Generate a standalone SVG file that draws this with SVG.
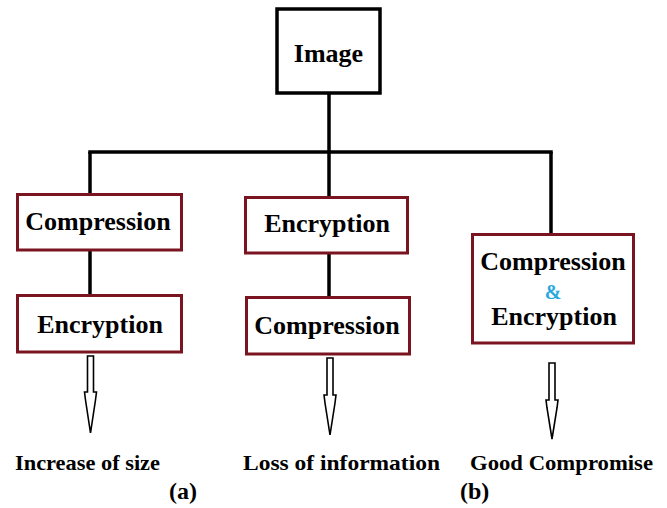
<svg xmlns="http://www.w3.org/2000/svg" width="667" height="508" viewBox="0 0 667 508">
<style>
.box{fill:#fff;stroke:#7b1421;stroke-width:3}
.img{fill:#fff;stroke:#000;stroke-width:3.5}
.t{font-family:'Liberation Serif','Times New Roman','DejaVu Serif',serif;font-weight:700;fill:#000;text-anchor:middle}
.big{font-size:26px}
.lab{font-size:22px;text-anchor:start}
.amp{font-size:20px;fill:#29a8e0}
.line{stroke:#000;stroke-width:3.5;fill:none}
.arr{fill:#fff;stroke:#000;stroke-width:1.6;stroke-linejoin:miter}
</style>
<g id="connectors">
<line class="line" x1="329" y1="93" x2="329" y2="152"/>
<line class="line" x1="88.25" y1="152" x2="552.75" y2="152"/>
<line class="line" x1="90" y1="152" x2="90" y2="194"/>
<line class="line" x1="329" y1="152" x2="329" y2="197"/>
<line class="line" x1="551" y1="152" x2="551" y2="234"/>
<line class="line" x1="90" y1="250" x2="90" y2="295"/>
<line class="line" x1="329" y1="253" x2="329" y2="297"/>
<polygon class="arr" points="87.5,356 93.5,356 93.5,392 96.5,392 95.5,400 90.5,433 85.5,400 84.5,392 87.5,392"/>
<polygon class="arr" points="327,358 333,358 333,395 336,395 335,403 330,435 325,403 324,395 327,395"/>
<polygon class="arr" points="549,363 555,363 555,400 558,400 557,408 552,439 547,408 546,400 549,400"/>
</g>
<g id="image">
<rect class="img" x="277" y="9" width="103" height="84"/>
<text class="t big" x="328.5" y="62" font-family="Liberation Serif, serif">Image</text>
</g>
<g id="a-compression">
<rect class="box" x="17.5" y="194.5" width="164" height="55.5"/>
<text class="t big" x="98" y="230">Compression</text>
</g>
<g id="a-encryption">
<rect class="box" x="17.5" y="295.5" width="164" height="56.5"/>
<text class="t big" x="100" y="333">Encryption</text>
</g>
<g id="b-encryption">
<rect class="box" x="245.5" y="197.5" width="162" height="55.5"/>
<text class="t big" x="327" y="232">Encryption</text>
</g>
<g id="b-compression">
<rect class="box" x="246.5" y="297.5" width="163" height="56.5"/>
<text class="t big" x="327" y="334">Compression</text>
</g>
<g id="c-both">
<rect class="box" x="472.5" y="234.5" width="161" height="108.5"/>
<text class="t big" x="553" y="270">Compression</text>
<text class="t amp" x="553" y="299">&amp;</text>
<text class="t big" x="554" y="325">Encryption</text>
</g>
<g id="labels">
<text class="t lab" x="15" y="470" textLength="145" lengthAdjust="spacingAndGlyphs">Increase of size</text>
<text class="t lab" x="243" y="470" textLength="197" lengthAdjust="spacingAndGlyphs">Loss  of information</text>
<text class="t lab" x="470" y="470" textLength="183" lengthAdjust="spacingAndGlyphs">Good Compromise</text>
<text class="t lab" x="169" y="499" style="font-size:24px">(a)</text>
<text class="t lab" x="460" y="499" style="font-size:24px">(b)</text>
</g>
</svg>
